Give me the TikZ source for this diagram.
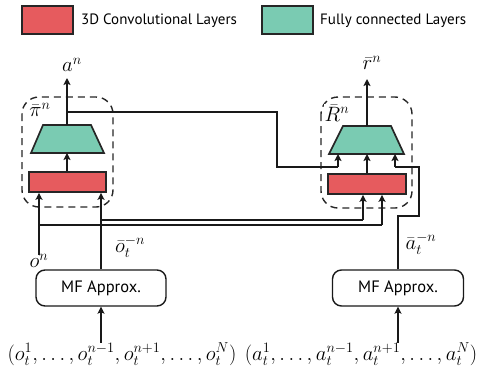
\documentclass[tikz,border=0pt]{standalone}
\usepackage{fontspec}
\setsansfont{PT Sans}
\usetikzlibrary{arrows.meta}
\definecolor{convred}{HTML}{E65B5E}
\definecolor{fcgreen}{HTML}{7ACBB2}
\tikzset{
  boxline/.style={draw=black!85, line width=1.7pt},
  convbox/.style={boxline, fill=convred, rectangle, inner sep=0pt},
  fcshape/.style={boxline, fill=fcgreen, line join=miter},
  dashbox/.style={draw=black!85, line width=1.4pt, dash pattern=on 7pt off 5pt,
     rounded corners=17pt},
  mfbox/.style={draw=black!90, line width=1.4pt, rounded corners=9pt, rectangle,
     inner sep=0pt, minimum width=130pt, minimum height=36pt,
     font=\sffamily\fontsize{16.5}{18}\selectfont},
  legtext/.style={anchor=west, inner sep=0pt, font=\sffamily\fontsize{15}{17}\selectfont},
  mathlab/.style={inner sep=0pt, font=\fontsize{21}{24}\selectfont},
  conn/.style={draw=black!90, line width=1.4pt},
  arr/.style={conn, -{Stealth[length=7pt,width=7pt,inset=1.5pt]}},
}
\begin{document}
\begin{tikzpicture}[x=1pt,y=-1pt]
\useasboundingbox (0,0) rectangle (479,367);
% legend
\node[convbox, minimum width=51pt, minimum height=28pt] (legred) at (47.5,20) {};
\node[legtext] (legredtxt) at (81,21) {3D Convolutional Layers};
\node[boxline, fill=fcgreen, rectangle, inner sep=0pt, minimum width=51pt, minimum height=28pt] (leggreen) at (287.5,20) {};
\node[legtext] (leggreentxt) at (320,21) {Fully connected Layers};

% left block
\draw[dashbox] (22,97) rectangle (113,207);
\draw[fcshape] (43,125) -- (91,125) -- (104,153) -- (31,153) -- cycle;
\coordinate (ltrapN) at (67,125);
\coordinate (ltrapS) at (67,153);
\node[convbox, minimum width=77pt, minimum height=20pt] (lred) at (67.5,182) {};
\node[mathlab, fill=white, inner sep=1pt] (pin) at (40,110) {$\bar{\pi}^n$};
\node[mathlab] (an) at (72,65) {$a^n$};

% right block
\draw[dashbox] (321,97) rectangle (412,208);
\draw[fcshape] (343,126) -- (391,126) -- (404,154) -- (329,154) -- cycle;
\coordinate (rtrapN) at (367,126);
\coordinate (rtrapS) at (367,154);
\node[convbox, minimum width=78pt, minimum height=20pt] (rred) at (367,184) {};
\node[mathlab, fill=white, inner sep=1pt] (Rn) at (337,113) {$\bar{R}^n$};
\node[mathlab] (rn) at (372,63) {$\bar{r}^n$};

% MF boxes
\node[mfbox] (lmf) at (101,288) {MF Approx.};
\node[mfbox, minimum width=131pt] (rmf) at (398,288) {MF Approx.};

% bottom texts
\node[mathlab] (botl) at (122,354) {$(o_t^1,\ldots,o_t^{n-1},o_t^{n+1},\ldots,o_t^N)$};
\node[mathlab] (botr) at (361,354) {$(a_t^1,\ldots,a_t^{n-1},a_t^{n+1},\ldots,a_t^N)$};

% labels
\node[mathlab] (on) at (39,261) {$o^n$};
\node[mathlab] (obar) at (130,247) {$\bar{o}_t^{-n}$};
\node[mathlab] (abar) at (421,244) {$\bar{a}_t^{-n}$};

% coordinates
\coordinate (oend) at (39,255);
\coordinate (ljA) at (67,112);
\coordinate (ljB) at (277,112);
\coordinate (ljC) at (277,167);
\coordinate (ljD) at (338,167);
\coordinate (rjA) at (398,216);
\coordinate (rjB) at (419,216);
\coordinate (rjC) at (419,167);
\coordinate (rjD) at (395,167);
\coordinate (ltop) at (67,78);
\coordinate (rtop) at (367,79);
\coordinate (mA) at (101,220);
\coordinate (mB) at (363,220);
\coordinate (sA) at (39,225);
\coordinate (sB) at (382,225);

% internal arrows
\draw[arr] (lred.north -| ltrapS) -- (ltrapS);
\draw[arr] (ltrapN) -- (ltop);
\draw[arr] (rred.north -| rtrapS) -- (rtrapS);
\draw[arr] (rtrapN) -- (rtop);

% policy to Q
\draw[conn] (ljA) -- (ljB) -- (ljC) -- (ljD);
\draw[arr] (ljD) -- (ljD |- rtrapS);

% mean action to Q
\draw[conn] (rmf.north -| rjA) -- (rjA) -- (rjB) -- (rjC) -- (rjD);
\draw[arr] (rjD) -- (rjD |- rtrapS);

% mean observation
\draw[arr] (lmf.north) -- (lmf.north |- lred.south);
\draw[conn] (mA) -- (mB);
\draw[arr] (mB) -- (mB |- rred.south);

% own observation
\draw[arr] (oend) -- (oend |- lred.south);
\draw[conn] (sA) -- (sB);
\draw[arr] (sB) -- (sB |- rred.south);

% inputs to MF
\draw[arr] (botl.north -| lmf.south) -- (lmf.south);
\draw[arr] (botr.north -| rjA) -- (rmf.south -| rjA);
\end{tikzpicture}
\end{document}
